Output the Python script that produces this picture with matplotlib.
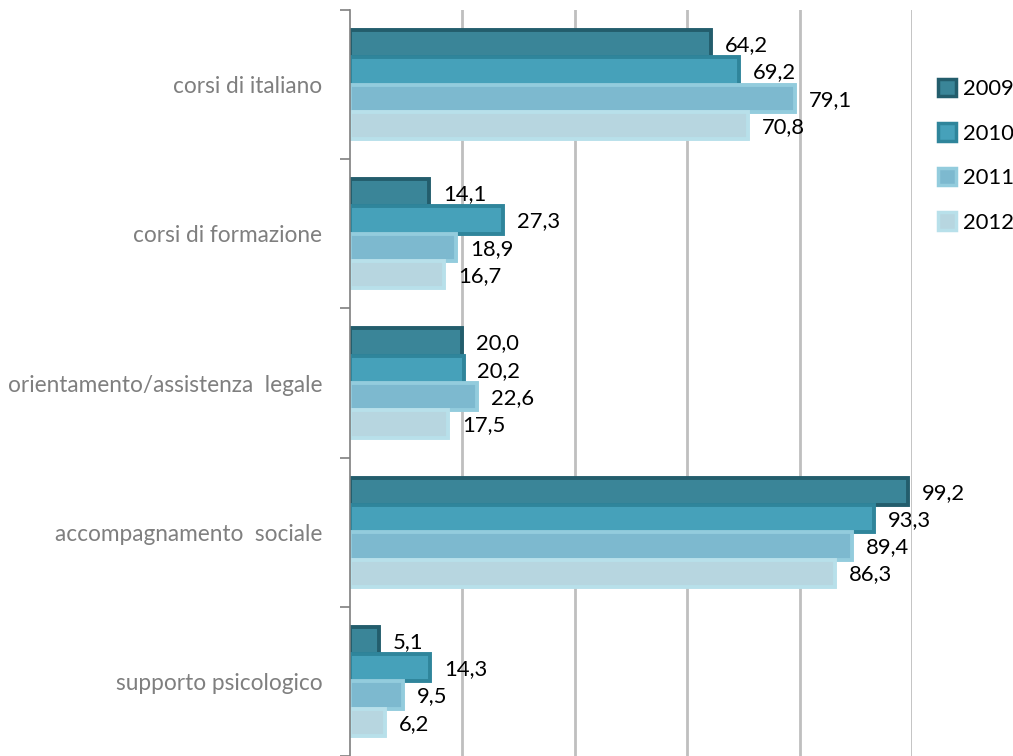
import matplotlib
matplotlib.use("Agg")
import matplotlib.pyplot as plt
import numpy as np
from matplotlib.patches import Patch

categories = ["corsi di italiano", "corsi di formazione", "orientamento/assistenza  legale",
              "accompagnamento  sociale", "supporto psicologico"]
years = ["2009", "2010", "2011", "2012"]
v2009 = [64.2, 14.1, 20.0, 99.2, 5.1]
v2010 = [69.2, 27.3, 20.2, 93.3, 14.3]
v2011 = [79.1, 18.9, 22.6, 89.4, 9.5]
v2012 = [70.8, 16.7, 17.5, 86.3, 6.2]
series = [v2009, v2010, v2011, v2012]

fills = ["#3A8598", "#46A1BA", "#7DB9CF", "#B7D6E0"]
edges = ["#235D6C", "#2F859B", "#93CCDD", "#B8E0EA"]

plt.rcParams['font.family'] = ['Lato', 'DejaVu Sans']

fig = plt.figure(figsize=(10.13, 7.56), dpi=100)
ax = fig.add_axes([350/1013, 0.0, 562/1013, 1 - 10/756])

n = len(categories)
h = 0.183
ypos = np.arange(n)
for i, (vals, fc, ec) in enumerate(zip(series, fills, edges)):
    y = ypos - 1.5*h + i*h
    ax.barh(y, vals, height=h, color=fc, edgecolor=ec, linewidth=2.8, zorder=3)
    for yy, v in zip(y, vals):
        ax.annotate(f"{v:.1f}".replace(".", ","), xy=(v, yy), xytext=(10, -1),
                    textcoords="offset points", va="center", ha="left",
                    fontsize=15.8, color="black", zorder=4)

ax.set_xlim(0, 100)
ax.set_ylim(n - 0.5, -0.5)
ax.set_yticks(ypos)
ax.set_yticklabels(categories, fontsize=16.3, color="#7F7F7F")
ax.set_yticks(np.arange(-0.5, n, 1), minor=True)
ax.tick_params(axis="y", which="major", length=0, pad=20)
ax.tick_params(axis="y", which="minor", length=7, width=1.2, color="#7F7F7F")
ax.set_xticks([20, 40, 60, 80, 100])
ax.tick_params(axis="x", which="both", length=0, labelbottom=False)
ax.grid(axis="x", color="#BFBFBF", linewidth=2, zorder=0)
ax.set_axisbelow(True)
for s in ["top", "right", "bottom"]:
    ax.spines[s].set_visible(False)
ax.spines["left"].set_color("#7F7F7F")
ax.spines["left"].set_linewidth(1.2)
ax.spines["left"].set_zorder(5)

handles = [Patch(facecolor=fc, edgecolor=ec, linewidth=2.5, label=yr) for yr, fc, ec in zip(years, fills, edges)]
fig.legend(handles=handles, loc="upper left", bbox_to_anchor=(929/1013, 1 - 70/756),
           frameon=False, fontsize=15.8, handlelength=0.85, handleheight=0.85,
           labelspacing=1.1, handletextpad=0.3, borderaxespad=0)

fig.savefig("out.png", dpi=100)
